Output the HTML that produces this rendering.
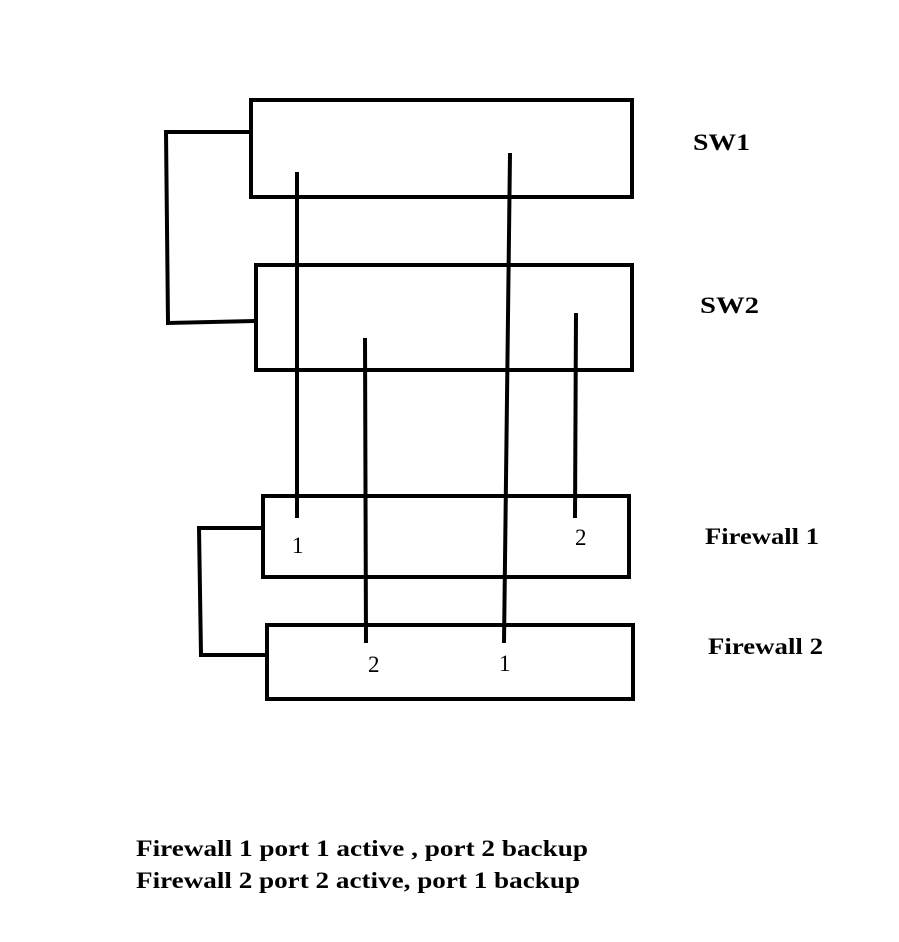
<!DOCTYPE html>
<html><head><style>html,body{margin:0;padding:0;background:#fff}svg{display:block}</style></head>
<body>
<svg width="899" height="942" viewBox="0 0 899 942" xmlns="http://www.w3.org/2000/svg">
<g fill="none" stroke="#000" stroke-width="4">
<rect x="251" y="100" width="381" height="97"/>
<rect x="256" y="265" width="376" height="105"/>
<rect x="263" y="496" width="366" height="81"/>
<rect x="267" y="625" width="366" height="74"/>
<polyline points="251,132 166,132 168,323 256,321"/>
<polyline points="263,528 199,528 201,655 267,655"/>
<line x1="297" y1="172" x2="297" y2="518"/>
<line x1="510" y1="153" x2="504" y2="643"/>
<line x1="365" y1="338" x2="366" y2="643"/>
<line x1="576" y1="313" x2="575" y2="518"/>
</g>
<g font-family="Liberation Serif, serif" font-weight="bold" font-size="23" fill="#000">
<text x="693" y="150" textLength="57" lengthAdjust="spacingAndGlyphs">SW1</text>
<text x="700" y="313" textLength="59" lengthAdjust="spacingAndGlyphs">SW2</text>
<text x="705" y="544" textLength="114" lengthAdjust="spacingAndGlyphs">Firewall 1</text>
<text x="708" y="654" textLength="115" lengthAdjust="spacingAndGlyphs">Firewall 2</text>
<text x="136" y="856" textLength="452" lengthAdjust="spacingAndGlyphs">Firewall 1 port 1 active , port 2 backup</text>
<text x="136" y="888" textLength="444" lengthAdjust="spacingAndGlyphs">Firewall 2 port 2 active, port 1 backup</text>
</g>
<g font-family="Liberation Serif, serif" font-size="23" fill="#000">
<text x="292" y="553">1</text>
<text x="575" y="545">2</text>
<text x="368" y="672">2</text>
<text x="499" y="671">1</text>
</g>
</svg>
</body></html>
